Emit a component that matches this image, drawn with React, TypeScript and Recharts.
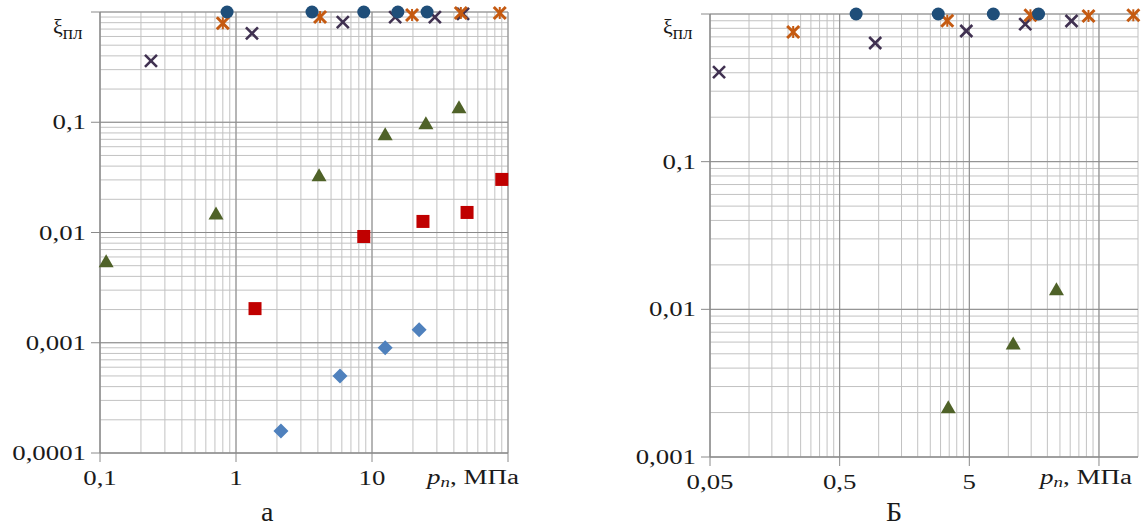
import React from 'react';
import { ScatterChart, Scatter, XAxis, YAxis, CartesianGrid, ReferenceLine } from 'recharts';

// ---- chart "а" (p from 0,1 to 100 MPa) ----
const aCircleX = [0.86, 3.62, 8.7, 15.5, 25.4];
const aCircleY = [1, 1, 1, 1, 1];
const aStarX = [0.8, 4.15, 19.7, 45, 87];
const aStarY = [0.79, 0.9, 0.94, 0.98, 0.98];
const aCrossX = [0.237, 1.31, 6.1, 14.8, 29, 46.7];
const aCrossY = [0.36, 0.64, 0.81, 0.9, 0.9, 0.96];
const aTriX = [0.111, 0.713, 4.08, 12.5, 24.9, 43.6];
const aTriY = [0.0055, 0.0149, 0.033, 0.078, 0.098, 0.137];
const aSquareX = [1.38, 8.7, 23.7, 50, 90];
const aSquareY = [0.00204, 0.0092, 0.0126, 0.0152, 0.0303];
const aDiamondX = [2.14, 5.82, 12.5, 22.2];
const aDiamondY = [0.000158, 0.0005, 0.0009, 0.00131];

const aXMajor = [0.1, 1, 10, 100];
const aXLabels = ['0,1', '1', '10', ''];
const aYMajor = [0.0001, 0.001, 0.01, 0.1, 1];
const aYLabels = ['0,0001', '0,001', '0,01', '0,1', ''];

// ---- chart "Б" (p from 0,05 to 100 MPa) ----
const bCircleX = [0.67, 2.88, 7.66, 17.1];
const bCircleY = [1, 1, 1, 1];
const bStarX = [0.219, 3.38, 14.8, 41.5, 92];
const bStarY = [0.755, 0.9, 0.98, 0.97, 0.98];
const bCrossX = [0.0587, 0.94, 4.74, 13.5, 30.7];
const bCrossY = [0.404, 0.636, 0.767, 0.855, 0.897];
const bTriX = [3.44, 10.9, 23.5];
const bTriY = [0.00217, 0.00588, 0.0137];

const bXMajor = [0.05, 0.5, 5, 50];
const bXLabels = ['0,05', '0,5', '5', ''];
const bYMajor = [0.001, 0.01, 0.1, 1];
const bYLabels = ['0,001', '0,01', '0,1', ''];

const C_CIRCLE = '#1F4E79';
const C_STAR = '#C55A11';
const C_CROSS = '#403151';
const C_TRI = '#4F6228';
const C_SQUARE = '#C00000';
const C_DIAMOND = '#4F81BD';
const GRID = '#c2c2c2';
const MAJOR = '#8a8a8a';
const FONT = '"Liberation Serif", "Times New Roman", serif';

const pts = (xs: number[], ys: number[]) => xs.map((x, i) => ({ x, y: ys[i] }));

// log grid: start * k * 10^n, k = 1..9, up to end
function logGrid(start: number, end: number) {
  const out: number[] = [];
  let p = start;
  while (p <= end * 1.0001) {
    for (let k = 1; k <= 9; k++) {
      const v = parseFloat((p * k).toPrecision(6));
      if (v <= end * 1.0001) out.push(v);
    }
    p *= 10;
  }
  return out;
}

const findIdx = (arr: number[], v: number) =>
  arr.findIndex((m) => Math.abs(Math.log10(m) - Math.log10(v)) < 1e-6);

const makeYTick = (majors: number[], labels: string[]) => (props: any) => {
  const { x, y, payload } = props;
  const i = findIdx(majors, payload.value);
  if (i < 0) return <g />;
  return (
    <g>
      <line x1={x - 9} x2={x} y1={y} y2={y} stroke={MAJOR} />
      <text
        transform={`translate(${x - 14},${y + 7}) scale(1.22,1)`}
        textAnchor="end"
        fontFamily={FONT}
        fontSize={22}
        fill="#1a1a1a"
      >
        {labels[i]}
      </text>
    </g>
  );
};

const makeXTick = (majors: number[], labels: string[]) => (props: any) => {
  const { x, y, payload } = props;
  const i = findIdx(majors, payload.value);
  if (i < 0) return <g />;
  return (
    <g>
      <line x1={x} x2={x} y1={y} y2={y + 9} stroke={MAJOR} />
      <text
        transform={`translate(${x},${y + 32}) scale(1.22,1)`}
        textAnchor="middle"
        fontFamily={FONT}
        fontSize={22}
        fill="#1a1a1a"
      >
        {labels[i]}
      </text>
    </g>
  );
};

const CircleShape = (color: string) => (p: any) => <circle cx={p.cx} cy={p.cy} r={6.5} fill={color} />;
const StarShape = (color: string) => (p: any) => (
  <g stroke={color} strokeWidth={3}>
    <line x1={p.cx - 6} y1={p.cy - 6} x2={p.cx + 6} y2={p.cy + 6} />
    <line x1={p.cx - 6} y1={p.cy + 6} x2={p.cx + 6} y2={p.cy - 6} />
    <line x1={p.cx} y1={p.cy - 6} x2={p.cx} y2={p.cy + 6} strokeWidth={2} />
  </g>
);
const CrossShape = (color: string) => (p: any) => (
  <g stroke={color} strokeWidth={2.6}>
    <line x1={p.cx - 6} y1={p.cy - 6} x2={p.cx + 6} y2={p.cy + 6} />
    <line x1={p.cx - 6} y1={p.cy + 6} x2={p.cx + 6} y2={p.cy - 6} />
  </g>
);
const TriShape = (color: string) => (p: any) => (
  <polygon points={`${p.cx},${p.cy - 7} ${p.cx - 7.5},${p.cy + 6} ${p.cx + 7.5},${p.cy + 6}`} fill={color} />
);
const SquareShape = (color: string) => (p: any) => (
  <rect x={p.cx - 6.5} y={p.cy - 6.5} width={13} height={13} fill={color} />
);
const DiamondShape = (color: string) => (p: any) => (
  <polygon points={`${p.cx},${p.cy - 7.5} ${p.cx + 7.5},${p.cy} ${p.cx},${p.cy + 7.5} ${p.cx - 7.5},${p.cy}`} fill={color} />
);

const xiLabel = (left: number) => (
  <div style={{ position: 'absolute', left, top: 14, fontFamily: FONT, fontSize: 22, color: '#1a1a1a', whiteSpace: 'nowrap' }}>
    ξ<span style={{ fontSize: 19, position: 'relative', top: 5 }}>пл</span>
  </div>
);

const pLabel = (left: number) => (
  <div
    style={{
      position: 'absolute',
      left,
      top: 466,
      fontFamily: FONT,
      fontSize: 20,
      color: '#1a1a1a',
      whiteSpace: 'nowrap',
      transform: 'scale(1.35,1)',
      transformOrigin: 'left top',
    }}
  >
    <i>p</i>
    <i style={{ fontSize: 14, position: 'relative', top: 3 }}>п</i>, МПа
  </div>
);

export default function App() {
  const aXTicks = logGrid(0.1, 100);
  const aYTicks = logGrid(0.0001, 1);
  const bXTicks = logGrid(0.05, 100);
  const bYTicks = logGrid(0.001, 1);

  return (
    <div style={{ position: 'absolute', left: 0, top: 0, width: 1146, height: 530, background: '#fff', overflow: 'hidden' }}>
      <div style={{ position: 'absolute', left: 0, top: 0 }}>
        <ScatterChart width={560} height={500} margin={{ top: 12, right: 52, left: 40, bottom: 17 }}>
          <CartesianGrid stroke={GRID} />
          <XAxis
            type="number"
            dataKey="x"
            scale="log"
            domain={[0.1, 100]}
            ticks={aXTicks}
            interval={0}
            tickSize={0}
            tickMargin={0}
            height={30}
            axisLine={{ stroke: MAJOR }}
            tick={makeXTick(aXMajor, aXLabels)}
          />
          <YAxis
            type="number"
            dataKey="y"
            scale="log"
            domain={[0.0001, 1]}
            ticks={aYTicks}
            interval={0}
            tickSize={0}
            tickMargin={0}
            width={60}
            axisLine={{ stroke: MAJOR }}
            tick={makeYTick(aYMajor, aYLabels)}
          />
          {aXMajor.map((v) => (
            <ReferenceLine key={'ax' + v} x={v} stroke={MAJOR} />
          ))}
          {aYMajor.map((v) => (
            <ReferenceLine key={'ay' + v} y={v} stroke={MAJOR} />
          ))}
          <Scatter data={pts(aDiamondX, aDiamondY)} shape={DiamondShape(C_DIAMOND)} isAnimationActive={false} />
          <Scatter data={pts(aSquareX, aSquareY)} shape={SquareShape(C_SQUARE)} isAnimationActive={false} />
          <Scatter data={pts(aTriX, aTriY)} shape={TriShape(C_TRI)} isAnimationActive={false} />
          <Scatter data={pts(aCrossX, aCrossY)} shape={CrossShape(C_CROSS)} isAnimationActive={false} />
          <Scatter data={pts(aStarX, aStarY)} shape={StarShape(C_STAR)} isAnimationActive={false} />
          <Scatter data={pts(aCircleX, aCircleY)} shape={CircleShape(C_CIRCLE)} isAnimationActive={false} />
        </ScatterChart>
      </div>

      <div style={{ position: 'absolute', left: 600, top: 0 }}>
        <ScatterChart width={546} height={500} margin={{ top: 14, right: 8, left: 50, bottom: 13 }}>
          <CartesianGrid stroke={GRID} />
          <XAxis
            type="number"
            dataKey="x"
            scale="log"
            domain={[0.05, 100]}
            ticks={bXTicks}
            interval={0}
            tickSize={0}
            tickMargin={0}
            height={30}
            axisLine={{ stroke: MAJOR }}
            tick={makeXTick(bXMajor, bXLabels)}
          />
          <YAxis
            type="number"
            dataKey="y"
            scale="log"
            domain={[0.001, 1]}
            ticks={bYTicks}
            interval={0}
            tickSize={0}
            tickMargin={0}
            width={60}
            axisLine={{ stroke: MAJOR }}
            tick={makeYTick(bYMajor, bYLabels)}
          />
          {bXMajor.map((v) => (
            <ReferenceLine key={'bx' + v} x={v} stroke={MAJOR} />
          ))}
          {bYMajor.map((v) => (
            <ReferenceLine key={'by' + v} y={v} stroke={MAJOR} />
          ))}
          <Scatter data={pts(bTriX, bTriY)} shape={TriShape(C_TRI)} isAnimationActive={false} />
          <Scatter data={pts(bCrossX, bCrossY)} shape={CrossShape(C_CROSS)} isAnimationActive={false} />
          <Scatter data={pts(bStarX, bStarY)} shape={StarShape(C_STAR)} isAnimationActive={false} />
          <Scatter data={pts(bCircleX, bCircleY)} shape={CircleShape(C_CIRCLE)} isAnimationActive={false} />
        </ScatterChart>
      </div>

      {xiLabel(53)}
      {xiLabel(663)}
      {pLabel(427)}
      {pLabel(1040)}
      <div style={{ position: 'absolute', left: 261, top: 496, fontFamily: FONT, fontSize: 28, color: '#1a1a1a' }}>а</div>
      <div style={{ position: 'absolute', left: 886, top: 496, fontFamily: FONT, fontSize: 28, color: '#1a1a1a' }}>Б</div>
    </div>
  );
}
